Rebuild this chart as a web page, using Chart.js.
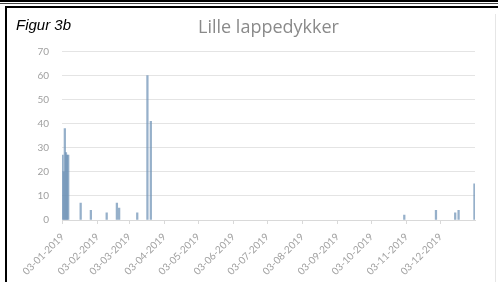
<!DOCTYPE html>
<html lang="da">
<head>
    <meta charset="UTF-8">
    <title>Lille lappedykker</title>
    <script src="https://cdn.jsdelivr.net/npm/chart.js"></script>
    <style>
        html, body {
            margin: 0;
            padding: 0;
            background: #fff;
        }
        body {
            width: 498px;
            height: 282px;
            position: relative;
            overflow: hidden;
        }
        #chartBox {
            position: absolute;
            left: 0;
            top: 0;
            width: 498px;
            height: 282px;
        }
        .rule1 { position: absolute; left: 0; top: 0; width: 498px; height: 2px; background: #000; }
        .rule2 { position: absolute; left: 0; top: 3px; width: 498px; height: 1px; background: #444; }
        .frame {
            position: absolute;
            left: 5px;
            top: 6px;
            width: 520px;
            height: 300px;
            border-top: 2px solid #000;
            border-left: 2px solid #000;
        }
        .edge { position: absolute; left: 495px; top: 14px; width: 1px; height: 268px; background: #e6e6e6; }
        .figur {
            position: absolute;
            left: 16px;
            top: 16px;
            font: italic 15px "Liberation Sans", Arial, sans-serif;
            color: #000;
        }
    </style>
</head>
<body>
    <div id="chartBox"><canvas id="birdChart" width="498" height="282"></canvas></div>
    <div class="rule1"></div>
    <div class="rule2"></div>
    <div class="frame"></div>
    <div class="edge"></div>
    <div class="figur">Figur 3b</div>

    <script>
        // Observationer (dato, antal)
        const obsDates = [
            "03-01-2019", "04-01-2019", "05-01-2019", "06-01-2019", "07-01-2019", "08-01-2019",
            "19-01-2019", "28-01-2019", "11-02-2019", "20-02-2019", "22-02-2019", "10-03-2019",
            "19-03-2019", "22-03-2019", "01-11-2019", "29-11-2019", "16-12-2019", "19-12-2019",
            "02-01-2020"
        ];
        const obsCounts = [27, 20, 38, 28, 27, 27, 7, 4, 3, 7, 5, 3, 60, 41, 2, 4, 3, 4, 15];

        // Akse-etiketter
        const monthTicks = [
            "03-01-2019", "03-02-2019", "03-03-2019", "03-04-2019", "03-05-2019", "03-06-2019",
            "03-07-2019", "03-08-2019", "03-09-2019", "03-10-2019", "03-11-2019", "03-12-2019"
        ];
        const yTicks = [0, 10, 20, 30, 40, 50, 60, 70];

        const startDate = "03-01-2019";
        const endDate = "02-01-2020";

        // dd-mm-yyyy -> dage efter startdato
        function dayNo(s) {
            const p = s.split("-");
            const t = Date.UTC(+p[2], +p[1] - 1, +p[0]);
            const s0 = startDate.split("-");
            return Math.round((t - Date.UTC(+s0[2], +s0[1] - 1, +s0[0])) / 86400000);
        }

        const tickDays = monthTicks.map(dayNo);
        const points = obsDates.map((d, i) => ({ x: dayNo(d), y: obsCounts[i] }));

        const axisFont = { family: "Lato, 'Open Sans', sans-serif", size: 10 };

        new Chart(document.getElementById("birdChart"), {
            type: "bar",
            data: {
                datasets: [{
                    label: "Lille lappedykker",
                    data: points,
                    backgroundColor: "rgba(110, 146, 182, 0.72)",
                    barThickness: 1.6
                }]
            },
            options: {
                responsive: false,
                animation: false,
                layout: { padding: { left: 10, right: 23, top: 0, bottom: 0 } },
                plugins: {
                    legend: { display: false },
                    tooltip: { enabled: false },
                    title: {
                        display: true,
                        text: "Lille lappedykker",
                        fullSize: false,
                        color: "#8a8a8a",
                        font: { family: "'Open Sans', Lato, sans-serif", size: 18, weight: "normal" },
                        padding: { top: 17, bottom: 13 }
                    }
                },
                scales: {
                    x: {
                        type: "linear",
                        offset: false,
                        min: dayNo(startDate) - 0.5,
                        max: dayNo(endDate) + 0.5,
                        afterBuildTicks: (axis) => {
                            axis.ticks = tickDays.map(v => ({ value: v }));
                        },
                        afterFit: (axis) => { axis.height = 62; },
                        grid: {
                            offset: false,
                            drawOnChartArea: false,
                            drawTicks: true,
                            tickLength: 4,
                            color: "#d9d9d9"
                        },
                        border: { display: true, color: "#d9d9d9" },
                        ticks: {
                            autoSkip: false,
                            minRotation: 45,
                            maxRotation: 45,
                            padding: 7,
                            color: "#a0a0a0",
                            font: axisFont,
                            callback: (value) => monthTicks[tickDays.indexOf(value)] || ""
                        }
                    },
                    y: {
                        min: 0,
                        max: 70,
                        afterBuildTicks: (axis) => {
                            axis.ticks = yTicks.map(v => ({ value: v }));
                        },
                        afterFit: (axis) => { axis.width = 52; },
                        grid: { color: "#e4e4e4", drawTicks: false },
                        border: { display: false },
                        ticks: {
                            padding: 13,
                            color: "#a0a0a0",
                            font: axisFont
                        }
                    }
                }
            }
        });
    </script>
</body>
</html>
